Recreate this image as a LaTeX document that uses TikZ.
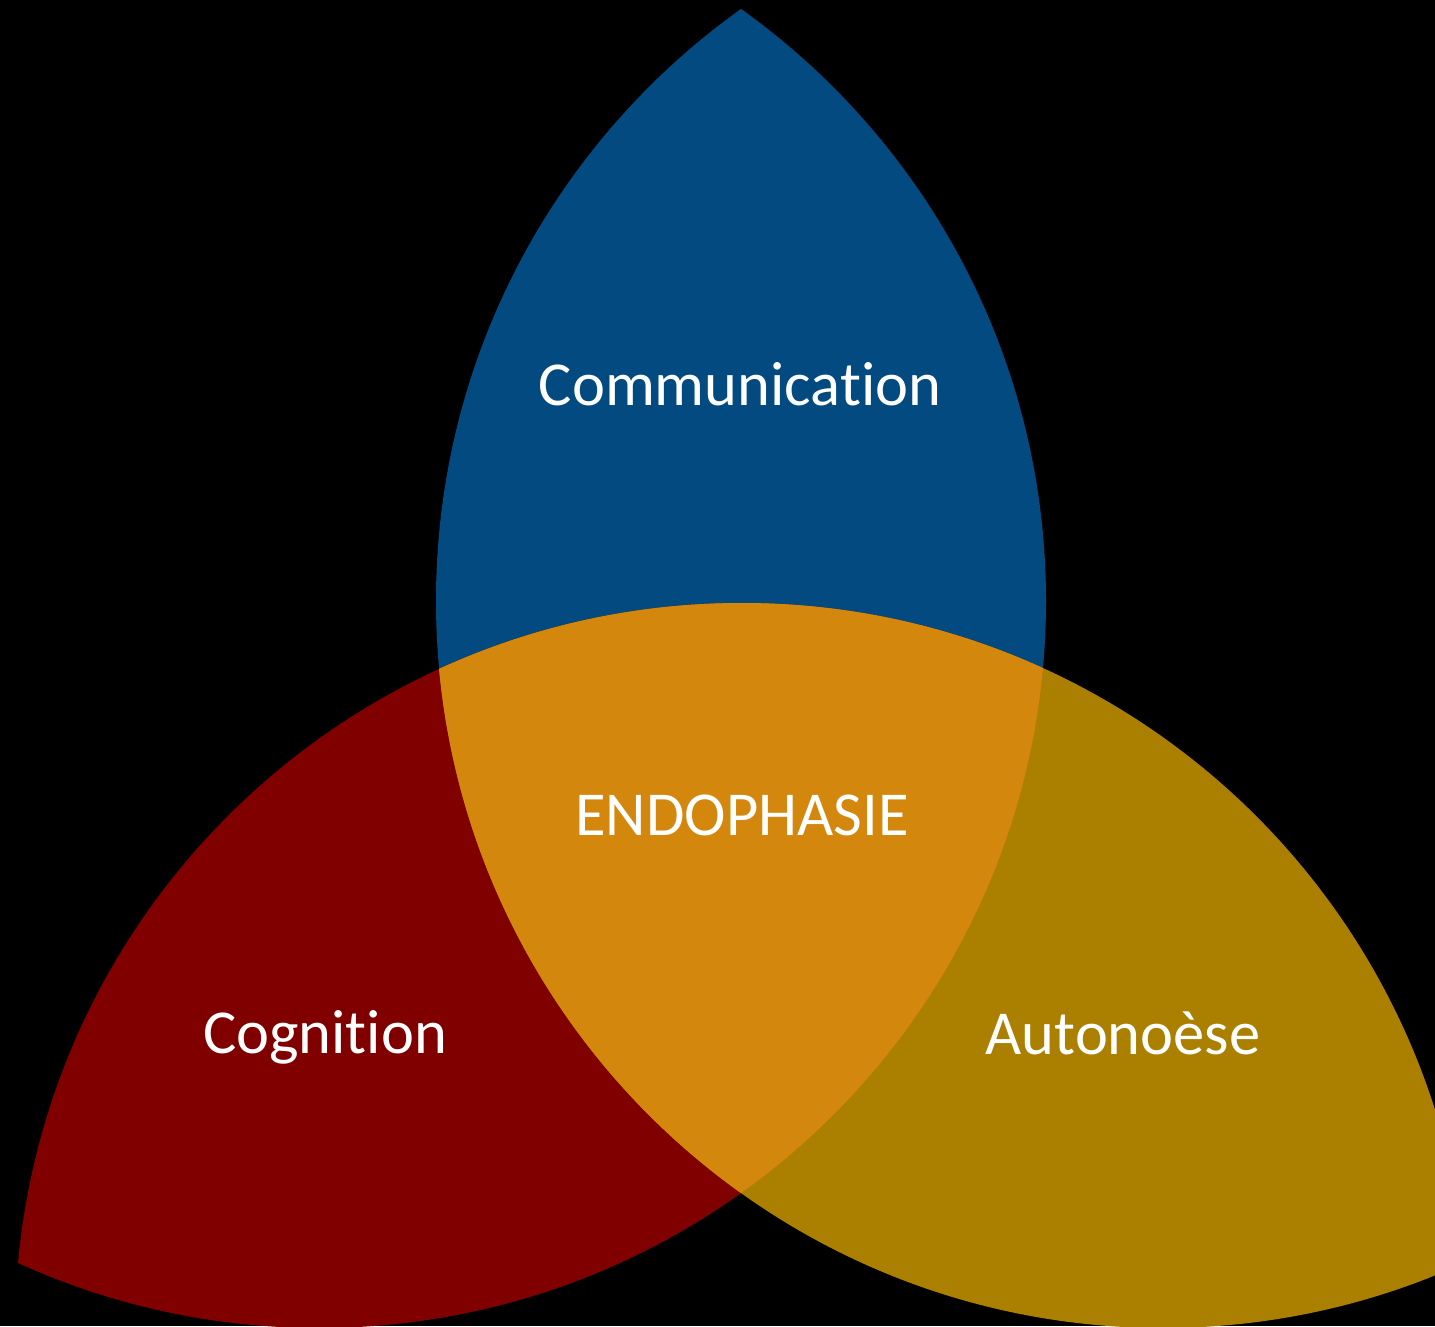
\documentclass[tikz,border=0pt]{standalone}
\usepackage{fontspec}
\setmainfont{Carlito}[Ligatures={NoCommon}]
\definecolor{cblue}{RGB}{2,74,127}
\definecolor{cred}{RGB}{128,0,0}
\definecolor{cyel}{RGB}{171,127,0}
\definecolor{cmid}{RGB}{212,135,13}
\begin{document}
\begin{tikzpicture}[x=1pt,y=-1pt,
  lbl/.style={text=white,font=\fontsize{62.5}{74}\selectfont,anchor=base,inner sep=0pt}]
\useasboundingbox (0,0) rectangle (1435,1326);
\fill[black] (0,0) rectangle (1435,1326);
% three circles of radius 727 on an equilateral triangle
\coordinate (A) at (319,601);
\coordinate (B) at (1163,601);
\coordinate (D) at (742,1330);
\def\rr{727}
% blue petal = A cap B
\begin{scope}
  \clip (A) circle (\rr);
  \fill[cblue] (B) circle (\rr);
\end{scope}
% red petal = A cap D
\begin{scope}
  \clip (A) circle (\rr);
  \fill[cred] (D) circle (\rr);
\end{scope}
% yellow petal = B cap D
\begin{scope}
  \clip (B) circle (\rr);
  \fill[cyel] (D) circle (\rr);
\end{scope}
% centre = A cap B cap D
\begin{scope}
  \clip (A) circle (\rr);
  \clip (B) circle (\rr);
  \fill[cmid] (D) circle (\rr);
\end{scope}
\node[lbl] (comm) at (740,405) {Communication};
\node[lbl] (endo) at (742,835) {ENDOPHASIE};
\node[lbl] (cogn) at (325,1053) {Cognition};
\node[lbl] (auto) at (1123,1054) {Autonoèse};
\end{tikzpicture}
\end{document}
